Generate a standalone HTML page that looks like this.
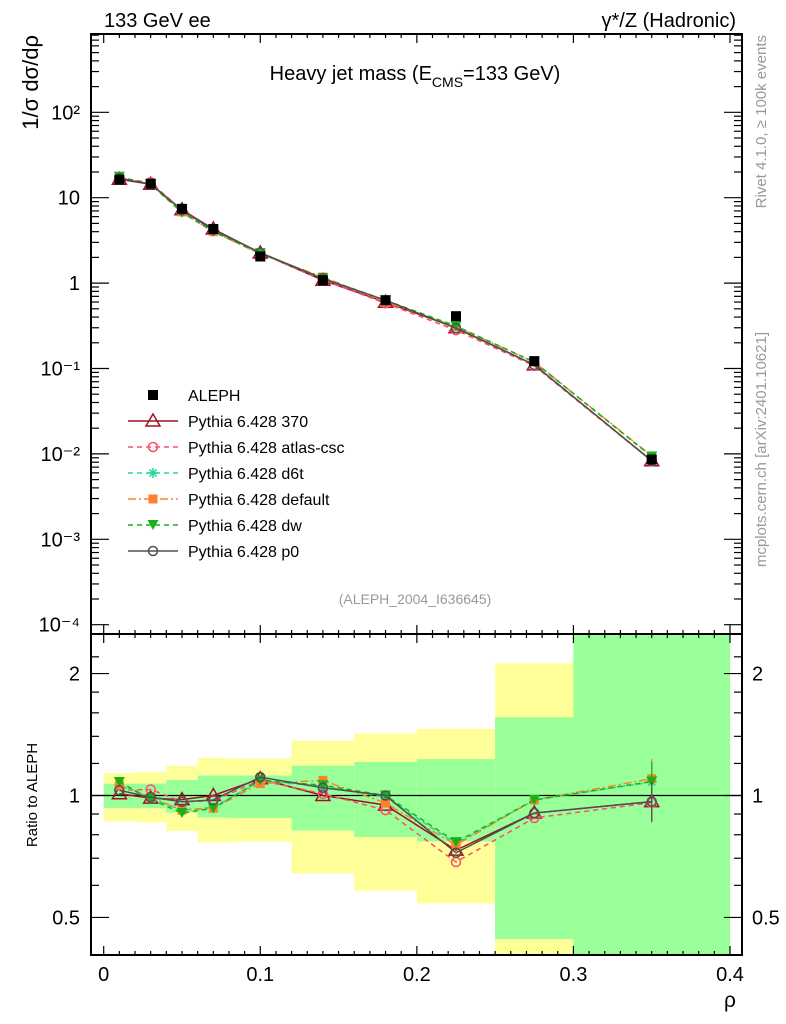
<!DOCTYPE html>
<html><head><meta charset="utf-8"><style>
body{margin:0;background:#fff;}
svg{display:block;font-family:"Liberation Sans",sans-serif;}
</style></head><body>
<svg id="c" width="786" height="1024" xmlns="http://www.w3.org/2000/svg"></svg>
<script>
const xCenters=[0.01,0.03,0.05,0.07,0.1,0.14,0.18,0.225,0.275,0.35];
const binEdges=[0,0.02,0.04,0.06,0.08,0.12,0.16,0.2,0.25,0.3,0.4];
const alephValues=[16.3,14.6,7.4,4.3,2.05,1.08,0.63,0.41,0.122,0.0086];
const yellowUp=[1.136,1.142,1.184,1.239,1.234,1.365,1.423,1.46,2.12,3.0];
const yellowDn=[0.863,0.858,0.818,0.765,0.769,0.642,0.582,0.541,0.2,0.2];
const greenUp=[1.069,1.07,1.093,1.12,1.12,1.184,1.21,1.23,1.56,3.0];
const greenDn=[0.931,0.93,0.908,0.882,0.88,0.82,0.79,0.77,0.442,0.2];
const r370=[1.01,0.985,0.977,1.0,1.10,1.0,0.947,0.733,0.905,0.966];
const rAtlas=[1.03,1.035,0.965,0.97,1.09,1.01,0.92,0.685,0.88,0.96];
const rD6t=[1.06,0.985,0.92,0.935,1.085,1.055,0.99,0.76,0.975,1.08];
const rDefault=[1.06,0.99,0.92,0.93,1.07,1.09,0.958,0.755,0.975,1.1];
const rDw=[1.08,0.98,0.905,0.93,1.09,1.06,1.0,0.767,0.975,1.083];
const rP0=[1.03,0.99,0.965,0.975,1.11,1.045,1.0,0.722,0.905,0.966];
const mainTickLabels=["10\u207B\u2074","10\u207B\u00B3","10\u207B\u00B2","10\u207B\u00B9","1","10","10\u00B2"];
const xTickLabels=["0","0.1","0.2","0.3","0.4"];

const S=document.getElementById('c');
const NS="http://www.w3.org/2000/svg";
function el(t,a,p){const e=document.createElementNS(NS,t);for(const k in a)e.setAttribute(k,a[k]);(p||S).appendChild(e);return e;}
const L=91,R=742,T=34,MB=634,B=955;
function X(v){return 103.7+v*1565.75;}
function Y(v){return 283.1-Math.log10(v)*85.4;}
function RY(v){return 795.5-Math.log10(v)*405;}
function clampR(y){return Math.max(MB,Math.min(B,y));}

const bands=el('g',{});


for(let i=0;i<xCenters.length;i++){
  const x1=X(binEdges[i]),x2=X(binEdges[i+1]);
  const yu=clampR(RY(yellowUp[i])),yd=clampR(RY(yellowDn[i]));
  const r=el('rect',{x:x1,y:yu,width:x2-x1,height:yd-yu,fill:'#ffff99'},bands);
  
  
  const gu=clampR(RY(greenUp[i])),gd=clampR(RY(greenDn[i]));
  const g=el('rect',{x:x1,y:gu,width:x2-x1,height:gd-gu,fill:'#99ff99'},bands);
  
  
}
el('line',{x1:L,x2:R,y1:RY(1),y2:RY(1),stroke:'#000','stroke-width':1.3});

const f1=el('rect',{x:L,y:T,width:R-L,height:MB-T,fill:'none',stroke:'#000','stroke-width':2});


const f2=el('rect',{x:L,y:MB,width:R-L,height:B-MB,fill:'none',stroke:'#000','stroke-width':2});



for(let k=0;k<=40;k++){
  const v=k/100,x=X(v),len=(k%10==0)?9:4;
  for(const [y0,d] of [[B,-1],[MB,1],[MB,-1],[T,1]]){
    el('line',{x1:x,x2:x,y1:y0,y2:y0+d*len,stroke:'#000','stroke-width':1.2});
  }
}
xTickLabels.forEach((t,i)=>{
  const e=el('text',{x:X(i*0.1),y:981,'font-size':20,'text-anchor':'middle'});e.textContent=t;
  
  
});
for(let d=-4;d<=2;d++){
  for(let m=1;m<10;m++){
    const y=Y(m*Math.pow(10,d));
    if(y<T)continue;
    const len=m==1?18:8;
    el('line',{x1:L,x2:L+len,y1:y,y2:y,stroke:'#000','stroke-width':1.2});
    el('line',{x1:R,x2:R-len,y1:y,y2:y,stroke:'#000','stroke-width':1.2});
  }
  const e=el('text',{x:80,y:Y(Math.pow(10,d))+7,'font-size':20,'text-anchor':'end'});
  e.textContent=mainTickLabels[d+4];
  
  
}
[0.4,0.5,0.6,0.7,0.8,0.9,1,1.2,1.4,1.6,1.8,2,2.2].forEach(v=>{
  const y=RY(v);if(y<MB||y>B)return;
  const len=(v==0.5||v==1||v==2)?18:8;
  el('line',{x1:L,x2:L+len,y1:y,y2:y,stroke:'#000','stroke-width':1.2});
  el('line',{x1:R,x2:R-len,y1:y,y2:y,stroke:'#000','stroke-width':1.2});
});
[["0.5",0.5],["1",1],["2",2]].forEach(([t,v])=>{
  const a=el('text',{x:80,y:RY(v)+7,'font-size':20,'text-anchor':'end'});a.textContent=t;
  
  
  const b=el('text',{x:752,y:RY(v)+7,'font-size':20}); b.textContent=t;
  
  
});

const series=[
 {n:'pythia-370',r:r370,c:'#a0102a',d:'',m:'tri'},
 {n:'pythia-atlas-csc',r:rAtlas,c:'#ff4d6a',d:'5,4',m:'circ'},
 {n:'pythia-d6t',r:rD6t,c:'#22d6a0',d:'5,4',m:'star'},
 {n:'pythia-default',r:rDefault,c:'#ff8030',d:'8,3,2,3',m:'sq'},
 {n:'pythia-dw',r:rDw,c:'#14b414',d:'5,4',m:'dtri'},
 {n:'pythia-p0',r:rP0,c:'#505050',d:'',m:'circ'}
];
function marker(g,m,x,y,c){
  if(m=='tri')el('path',{d:`M${x},${y-7}L${x+7},${y+5}L${x-7},${y+5}Z`,fill:'none',stroke:c,'stroke-width':1.5},g);
  else if(m=='circ')el('circle',{cx:x,cy:y,r:4.5,fill:'none',stroke:c,'stroke-width':1.5},g);
  else if(m=='sq')el('rect',{x:x-4.5,y:y-4.5,width:9,height:9,fill:c},g);
  else if(m=='dtri')el('path',{d:`M${x-5.5},${y-5}L${x+5.5},${y-5}L${x},${y+5}Z`,fill:c},g);
  else if(m=='star'){for(const a of [0,45,90,135]){const r=a*Math.PI/180;el('line',{x1:x-5*Math.cos(r),y1:y-5*Math.sin(r),x2:x+5*Math.cos(r),y2:y+5*Math.sin(r),stroke:c,'stroke-width':1.5},g);}}
  else if(m=='bsq')el('rect',{x:x-5,y:y-5,width:10,height:10,fill:c},g);
}
series.forEach(s=>{
  const g=el('g',{});
  
  
  const pm=xCenters.map((x,i)=>`${X(x)},${Y(alephValues[i]*s.r[i])}`).join(' ');
  el('polyline',{points:pm,fill:'none',stroke:s.c,'stroke-width':1.5,'stroke-dasharray':s.d},g);
  const pr=xCenters.map((x,i)=>`${X(x)},${RY(s.r[i])}`).join(' ');
  el('polyline',{points:pr,fill:'none',stroke:s.c,'stroke-width':1.5,'stroke-dasharray':s.d},g);
  xCenters.forEach((x,i)=>{marker(g,s.m,X(x),Y(alephValues[i]*s.r[i]),s.c);marker(g,s.m,X(x),RY(s.r[i]),s.c);});
  el('line',{x1:X(0.35),x2:X(0.35),y1:RY(s.r[9]*1.12),y2:RY(s.r[9]/1.12),stroke:s.c,'stroke-width':1.2},g);
});
const dg=el('g',{});


xCenters.forEach((x,i)=>marker(dg,'bsq',X(x),Y(alephValues[i]),'#000'));

const leg=[['ALEPH','#000','','bsq'],['Pythia 6.428 370','#a0102a','','tri'],['Pythia 6.428 atlas-csc','#ff4d6a','5,4','circ'],['Pythia 6.428 d6t','#22d6a0','5,4','star'],['Pythia 6.428 default','#ff8030','8,3,2,3','sq'],['Pythia 6.428 dw','#14b414','5,4','dtri'],['Pythia 6.428 p0','#505050','','circ']];
leg.forEach((l,i)=>{
  const y=395+i*26;
  const g=el('g',{});
  
  
  if(i>0)el('line',{x1:128,x2:178,y1:y,y2:y,stroke:l[1],'stroke-width':1.5,'stroke-dasharray':l[2]},g);
  marker(g,l[3],153,y,l[1]);
  const t=el('text',{x:188,y:y+6,'font-size':16},g);t.textContent=l[0];
});

function txt(s,a,name){const e=el('text',a);e.textContent=s;return e;}
txt('133 GeV ee',{x:104,y:27,'font-size':20},'header-left');
txt('\u03B3*/Z (Hadronic)',{x:736,y:27,'font-size':20,'text-anchor':'end'},'header-right');
const tt=el('text',{x:415,y:80,'font-size':20,'text-anchor':'middle'});


tt.innerHTML='Heavy jet mass (E<tspan font-size="14" dy="7">CMS</tspan><tspan dy="-7">=133 GeV)</tspan>';
txt('(ALEPH_2004_I636645)',{x:415,y:604,'font-size':14,'text-anchor':'middle',fill:'#999'},'analysis-id');
txt('1/\u03C3  d\u03C3/d\u03C1',{x:0,y:0,'font-size':22,'text-anchor':'end','xml:space':'preserve',transform:'translate(38,35) rotate(-90)'},'y-axis-title');
txt('Ratio to ALEPH',{x:0,y:0,'font-size':15,'text-anchor':'middle',transform:'translate(37,795) rotate(-90)'},'ratio-axis-title');
txt('\u03C1',{x:736,y:1007,'font-size':21,'text-anchor':'end'},'x-axis-title');
txt('Rivet 4.1.0, \u2265 100k events',{x:0,y:0,'font-size':15,'text-anchor':'end',fill:'#999',transform:'translate(766,35) rotate(-90)'},'rivet-note');
txt('mcplots.cern.ch [arXiv:2401.10621]',{x:0,y:0,'font-size':15,'text-anchor':'end',fill:'#999',transform:'translate(766,332) rotate(-90)'},'mcplots-note');
</script>
</body></html>
